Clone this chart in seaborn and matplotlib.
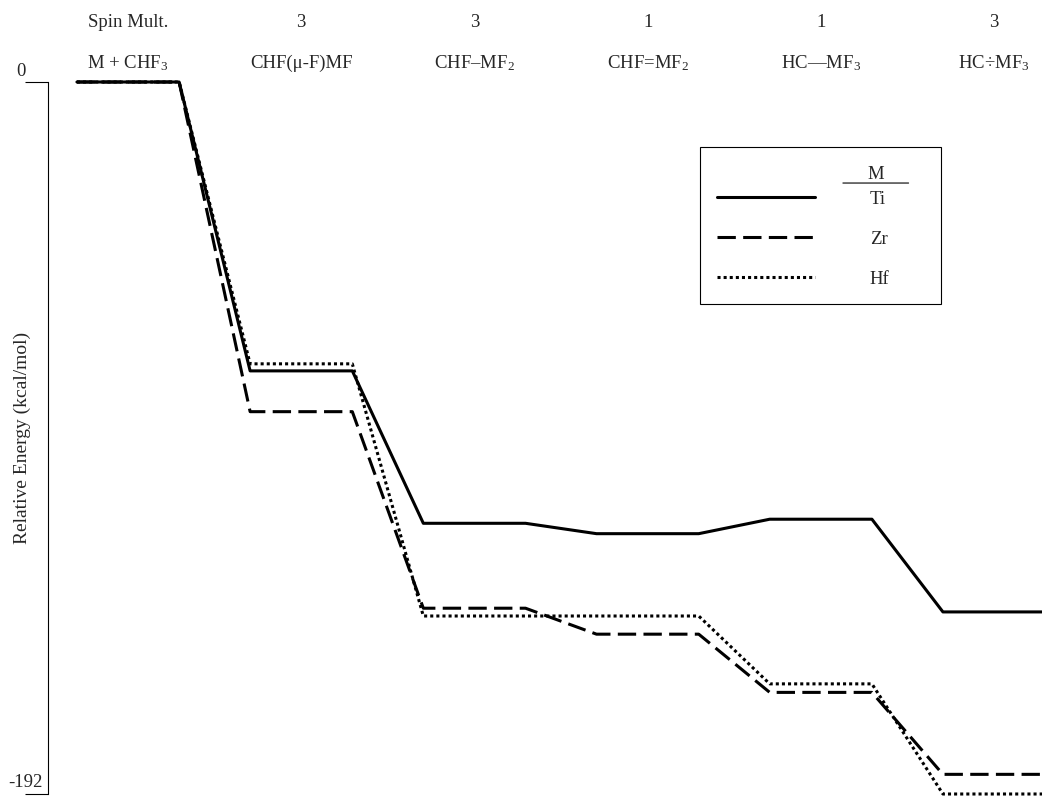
import matplotlib
matplotlib.use("Agg")
import pandas as pd
import seaborn as sns
import matplotlib.pyplot as plt
from matplotlib.text import OffsetFrom
from matplotlib.transforms import blended_transform_factory

# states along the reaction path (header rows)
states = ["M + CHF$_3$", "CHF(μ-F)MF", "CHF–MF$_2$", "CHF=MF$_2$", "HC—MF$_3$", "HC÷MF$_3$"]
spin_mult = ["Spin Mult.", "3", "3", "1", "1", "3"]

# relative energies (kcal/mol)
metals = ["Ti", "Zr", "Hf"]
ti_energy = [0.0, -77.9, -119.0, -121.8, -117.9, -142.9]
zr_energy = [0.0, -88.9, -141.9, -148.9, -164.6, -186.7]
hf_energy = [0.0, -76.0, -144.0, -144.0, -162.3, -192.0]

y_ticks = [0, -192]

# each state is a short horizontal level, joined to the next by a slanted line
half_width = 0.295
rows = []
for metal, energies in zip(metals, [ti_energy, zr_energy, hf_energy]):
    for i, e in enumerate(energies):
        rows.append({"metal": metal, "x": i - half_width, "energy": e})
        rows.append({"metal": metal, "x": i + half_width, "energy": e})
df = pd.DataFrame(rows)

sns.set_style("white")
plt.rcParams["font.family"] = ["Liberation Serif", "DejaVu Serif"]
plt.rcParams["mathtext.fontset"] = "custom"
plt.rcParams["mathtext.rm"] = "Liberation Serif"
plt.rcParams["mathtext.it"] = "Liberation Serif:italic"
plt.rcParams["mathtext.bf"] = "Liberation Serif:bold"

fig = plt.figure(figsize=(10.42, 7.96), dpi=100)
ax = fig.add_axes([48 / 1042, 2 / 796, 994 / 1042, 712 / 796])

sns.lineplot(data=df, x="x", y="energy", hue="metal", style="metal",
             hue_order=metals, style_order=metals,
             palette={"Ti": "black", "Zr": "black", "Hf": "black"},
             dashes={"Ti": "", "Zr": (6, 2.4), "Hf": (1, 1)},
             sort=False, estimator=None, lw=2.2, legend=False, ax=ax)
for line in ax.get_lines():
    line.set_clip_on(False)

ax.set_xlim(-0.462, 5.277)
ax.set_ylim(-192, 0)
ax.set_xticks([])
ax.set_xlabel("")
ax.set_yticks(y_ticks)
ax.set_yticklabels([])
ax.tick_params(axis="y", left=True, length=16.5, width=0.8, color="black", direction="out")
sns.despine(ax=ax, top=True, right=True, bottom=True)
ax.spines["left"].set_color("black")
ax.spines["left"].set_linewidth(0.8)

# tick labels sit above the tick marks
ytr = blended_transform_factory(ax.transAxes, ax.transData)
ax.annotate("0", xy=(0, 0), xycoords=ytr, xytext=(-19.4, 4.3), textcoords="offset points",
            ha="center", va="baseline", fontsize=13.5, annotation_clip=False)
ax.annotate("-192", xy=(0, -192), xycoords=ytr, xytext=(-16.2, 5), textcoords="offset points",
            ha="center", va="baseline", fontsize=13.5, annotation_clip=False)

ax.set_ylabel("Relative Energy (kcal/mol)", fontsize=14)
ax.yaxis.set_label_coords(-0.017, 0.5)

# header rows above the plot
htr = blended_transform_factory(ax.transData, fig.transFigure)
for i, lab in enumerate(spin_mult):
    ax.text(i, 0.9657, lab, transform=htr, ha="center", va="baseline", fontsize=13.5)
for i, lab in enumerate(states):
    ax.text(i, 0.9146, lab, transform=htr, ha="center", va="baseline", fontsize=13.5)

handles = ax.get_lines()[:3]
leg = ax.legend(handles, metals, loc="upper left", bbox_to_anchor=(0.656, 0.5, 0.2425, 0.4087),
                mode="expand", frameon=True, fancybox=False, edgecolor="black", framealpha=1,
                fontsize=13.5, handlelength=5.23, handletextpad=2.93, labelspacing=1.22,
                borderpad=0.88, borderaxespad=0, title=" ", title_fontsize=3)
leg.get_frame().set_linewidth(0.8)

# "M" header with a rule over the metal names
off = OffsetFrom(leg.get_texts()[0], (0.5, 0.5), unit="points")
ax.annotate("M", xy=(-1.4, 18), xycoords=off, ha="center", va="center", fontsize=13.5, zorder=6)
ax.annotate("", xy=(-25, 11.5), xycoords=off, xytext=(22.3, 11.5), textcoords=off,
            arrowprops=dict(arrowstyle="-", color="black", lw=0.8, shrinkA=0, shrinkB=0), zorder=6)

fig.savefig("out.png", dpi=100)
